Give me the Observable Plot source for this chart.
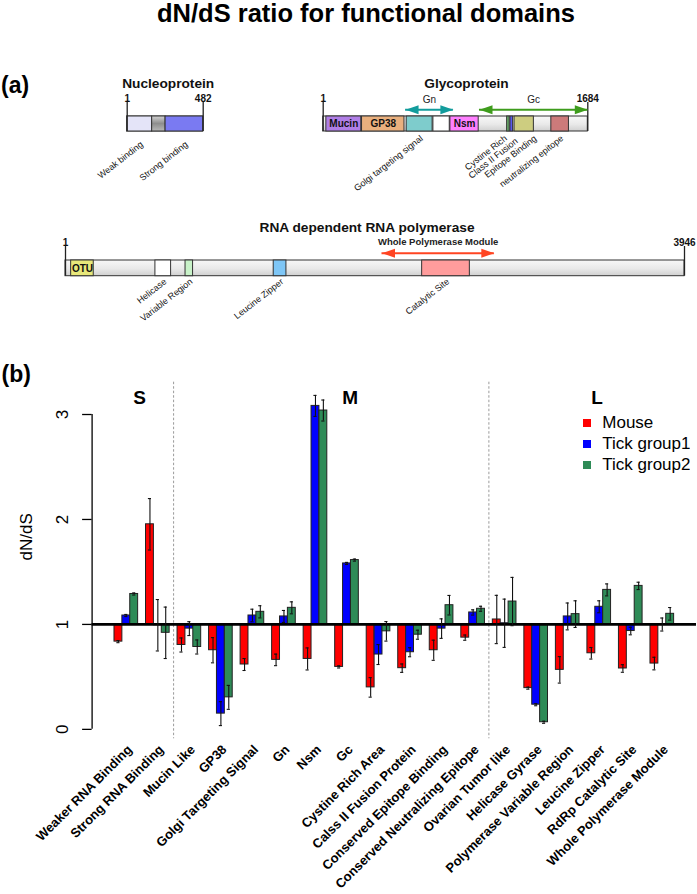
<!DOCTYPE html>
<html>
<head>
<meta charset="utf-8">
<script src="https://cdn.jsdelivr.net/npm/d3@7"></script>
<script src="https://cdn.jsdelivr.net/npm/@observablehq/plot@0.6"></script>
<style>
  html, body { margin: 0; padding: 0; background: #fff; }
  body { font-family: "Liberation Sans", Arial, Helvetica, sans-serif; }
  #root { position: relative; width: 697px; height: 894px; overflow: hidden; background: #fff; }
  .layer { position: absolute; left: 0; top: 0; }
  #title { position: absolute; left: 157px; top: 2px; font-size: 25.5px; font-weight: bold; line-height: 0.9; white-space: nowrap; color: #000; }
  #legendBox { position: absolute; left: 582.7px; top: 412.6px; }
  #legendBox .lg-swatches, #legendBox > div { margin: 0 !important; font-size: 17px !important; font-family: "Liberation Sans", Arial, sans-serif !important; }
  #legendBox .lg-swatch { height: 20.8px; padding-bottom: 0 !important; display: flex; align-items: center; }
  #legendBox svg { margin-right: 11.6px !important; }
</style>
</head>
<body>
<svg width="0" height="0" style="position:absolute">
  <defs>
    <linearGradient id="barGrad" x1="0" y1="0" x2="0" y2="1">
      <stop offset="0" stop-color="#F8F8F8"/>
      <stop offset="0.55" stop-color="#E9E9E9"/>
      <stop offset="1" stop-color="#D0D0D0"/>
    </linearGradient>
    <linearGradient id="greyGrad" x1="0" y1="0" x2="0" y2="1">
      <stop offset="0" stop-color="#D2D2D2"/>
      <stop offset="0.5" stop-color="#8E8E8E"/>
      <stop offset="1" stop-color="#B8B8B8"/>
    </linearGradient>
  </defs>
</svg>
<div id="root">
  <div id="title">dN/dS ratio for functional domains</div>
</div>
<script>
// ---------------- DATA: panel (a) domain maps ----------------
const proteinIds = ["N", "G", "L"];
const proteinNames = ["Nucleoprotein", "Glycoprotein", "RNA dependent RNA polymerase"];
const proteinLengths = [482, 1684, 3946];

const domainNames = ["Weak binding", "N linker", "Strong binding",
  "Mucin", "GP38", "Golgi targeting signal", "G spacer", "Nsm",
  "Cystine Rich", "Class II Fusion", "Epitope Binding", "neutralizing epitope",
  "OTU", "Helicase", "Variable Region", "Leucine Zipper", "Catalytic Site"];
const domainProtein = ["N", "N", "N", "G", "G", "G", "G", "G", "G", "G", "G", "G", "L", "L", "L", "L", "L"];
const domainStart = [1, 159, 244, 21, 248, 532, 702, 810, 1171, 1192, 1218, 1452, 37, 574, 766, 1328, 2274];
const domainEnd = [159, 244, 482, 243, 518, 697, 806, 990, 1187, 1209, 1341, 1564, 181, 674, 814, 1409, 2578];
const innerLabelled = ["Mucin", "GP38", "Nsm", "OTU"];
const belowLabelled = ["Weak binding", "Strong binding", "Golgi targeting signal", "Cystine Rich",
  "Class II Fusion", "Epitope Binding", "neutralizing epitope",
  "Helicase", "Variable Region", "Leucine Zipper", "Catalytic Site"];

const arrowNames = ["Gn", "Gc", "Whole Polymerase Module"];
const arrowProtein = ["G", "G", "L"];
const arrowStart = [525, 995, 2018];
const arrowEnd = [829, 1684, 2734];

// ---------------- DATA: panel (b) dN/dS bars ----------------
const categories = ["Weaker RNA Binding", "Strong RNA Binding", "Mucin Like", "GP38",
  "Golgi Targeting Signal", "Gn", "Nsm", "Gc", "Cystine Rich Area", "Calss II Fusion Protein",
  "Conserved Epitope Binding", "Conserved Neutralizing Epitope", "Ovarian Tumor like",
  "Helicase Gyrase", "Polymerase Variable Region", "Leucine Zipper", "RdRp Catalytic Site",
  "Whole Polymerase Module"];
const seriesNames = ["Mouse", "Tick group1", "Tick group2"];
const mouseValues = [0.836, 1.954, 0.804, 0.754, 0.618, 0.662, 0.671, 0.595, 0.400, 0.583, 0.754, 0.874, 1.047, 0.393, 0.567, 0.725, 0.580, 0.627];
const mouseErrors = [0.010, 0.245, 0.067, 0.120, 0.057, 0.055, 0.105, 0.010, 0.093, 0.040, 0.096, 0.025, 0.230, 0.010, 0.126, 0.055, 0.036, 0.060];
const tick1Values = [1.085, 0.992, 0.960, 0.150, 1.085, 1.076, 3.082, 1.581, 0.713, 0.735, 0.960, 1.114, 1.011, 0.235, 1.076, 1.168, 0.937, 0.999];
const tick1Errors = [0.010, 0.245, 0.066, 0.114, 0.060, 0.057, 0.100, 0.010, 0.095, 0.043, 0.093, 0.025, 0.230, 0.010, 0.128, 0.057, 0.036, 0.062];
const tick2Values = [1.290, 0.920, 0.785, 0.305, 1.120, 1.158, 3.038, 1.613, 0.934, 0.902, 1.183, 1.149, 1.218, 0.068, 1.098, 1.329, 1.367, 1.101];
const tick2Errors = [0.010, 0.245, 0.067, 0.114, 0.058, 0.057, 0.100, 0.010, 0.093, 0.043, 0.093, 0.024, 0.230, 0.010, 0.127, 0.057, 0.035, 0.060];
const segmentNames = ["S", "M", "L"];
const segmentFirst = [0, 2, 12];
const yTicks = [0, 1, 2, 3];
const yLabel = "dN/dS";
const baselineValue = 1;

// ---------------- STYLE / LAYOUT ----------------
const FONT = '"Liberation Sans", Arial, Helvetica, sans-serif';
const NARROW = '"Liberation Sans Narrow", "Arial Narrow", "Liberation Sans", Arial, sans-serif';
const W = 697;
const A_TOP = 40, A_H = 300;
const B_TOP = 340, B_H = 554;
const seriesColors = ["#FF0000", "#0000FF", "#2E8B57"];
const domainFill = {
  "Weak binding": "#E4E4F8", "N linker": "url(#greyGrad)", "Strong binding": "#7A7AF2",
  "Mucin": "#B07EE6", "GP38": "#E9B07E", "Golgi targeting signal": "#7ECCCC", "G spacer": "#FFFFFF",
  "Nsm": "#FF80FF", "Cystine Rich": "#6AAE6A", "Class II Fusion": "#5A5AEE",
  "Epitope Binding": "#CDCD80", "neutralizing epitope": "#CC7A7A",
  "OTU": "#E8E87A", "Helicase": "#FFFFFF", "Variable Region": "#C8F2C8",
  "Leucine Zipper": "#7EC6F6", "Catalytic Site": "#FF9C9C"
};
const arrowColor = {"Gn": "#129C9C", "Gc": "#3E9C1C", "Whole Polymerase Module": "#FF4422"};
const layoutA = {
  N: {barLeft: 126.7, barRight: 202.7, barTop: 116, barBottom: 131, titleDx: 3, labelGap: 9, arrowRise: 6.7, arrowLabelRise: 14},
  G: {barLeft: 322.7, barRight: 587.3, barTop: 116, barBottom: 131, titleDx: 11, labelGap: 3, arrowRise: 6.7, arrowLabelRise: 14},
  L: {barLeft: 65, barRight: 684, barTop: 260, barBottom: 275.7, titleDx: -8, labelGap: 1.5, arrowRise: 7.3, arrowLabelRise: 16}
};
const labelShift = {"Cystine Rich": [-4.7, 0], "Class II Fusion": [2.7, 2.7], "Epitope Binding": [9, 0]};
const segmentLabelAt = [0.42, 7.1, 14.93];   // label anchor, in category-index units
const GROUP_STEP = 4, BAR_SPACE = 1, CAP = 0.2;

const root = document.getElementById("root");
function addLayer(node, top) {
  const wrap = document.createElement("div");
  wrap.className = "layer";
  wrap.style.top = top + "px";
  wrap.appendChild(node);
  root.appendChild(wrap);
}

// arrow heads (custom symbols, tip at the point)
const headRight = {draw(ctx) { ctx.moveTo(0, 0); ctx.lineTo(-13, -4.5); ctx.lineTo(-13, 4.5); ctx.closePath(); }};
const headLeft = {draw(ctx) { ctx.moveTo(0, 0); ctx.lineTo(13, -4.5); ctx.lineTo(13, 4.5); ctx.closePath(); }};

// ---------------- PANEL (a) ----------------
proteinIds.forEach((id, pi) => {
  const p = {id, name: proteinNames[pi], len: proteinLengths[pi]};
  const L = layoutA[id];
  const doms = domainNames.map((name, k) => ({name, protein: domainProtein[k], start: domainStart[k], end: domainEnd[k]}))
    .filter(d => d.protein === id);
  const arrs = arrowNames.map((name, k) => ({name, protein: arrowProtein[k], start: arrowStart[k], end: arrowEnd[k]}))
    .filter(d => d.protein === id);
  const mid = d => (d.start + d.end) / 2;
  const marks = [
    Plot.rect([p], {x1: () => 1, x2: d => d.len, y1: () => 0, y2: () => 1, fill: "url(#barGrad)", stroke: "#333", strokeWidth: 1}),
    Plot.rect(doms, {x1: "start", x2: "end", y1: () => 0, y2: () => 1, fill: d => domainFill[d.name], stroke: "#333", strokeWidth: 1}),
    Plot.ruleX([1, p.len], {x: d => d, insetTop: -14, stroke: "#222", strokeWidth: 1.3}),
    Plot.text([1, p.len], {x: d => d, text: d => String(d), frameAnchor: "top", lineAnchor: "bottom", dy: -14.8,
      fontWeight: "bold", fontSize: 10, fontFamily: FONT, fill: "#111"}),
    Plot.text([p], {x: d => (1 + d.len) / 2, text: "name", frameAnchor: "top", lineAnchor: "bottom", dy: -29, dx: L.titleDx,
      fontWeight: "bold", fontSize: 13.7, fontFamily: FONT, fill: "#111"}),
    Plot.text(doms.filter(d => innerLabelled.includes(d.name)), {x: mid, y: () => 0.5, text: "name",
      fontWeight: "bold", fontSize: 10, fontFamily: NARROW, fill: "#111"})
  ];
  if (arrs.length) {
    marks.push(
      Plot.ruleY(arrs, {y: () => 1, x1: "start", x2: "end", dy: -L.arrowRise, stroke: d => arrowColor[d.name], strokeWidth: 2}),
      Plot.dot(arrs, {x: "end", y: () => 1, dy: -L.arrowRise, symbol: headRight, r: 5, fill: d => arrowColor[d.name], stroke: null}),
      Plot.dot(arrs, {x: "start", y: () => 1, dy: -L.arrowRise, symbol: headLeft, r: 5, fill: d => arrowColor[d.name], stroke: null}),
      Plot.text(arrs, {x: mid, text: "name", frameAnchor: "top", lineAnchor: "bottom", dy: -L.arrowLabelRise,
        fontSize: id === "L" ? 9.5 : 10, fontWeight: id === "L" ? "bold" : "normal", fontFamily: NARROW, fill: "#222"})
    );
  }
  doms.filter(d => belowLabelled.includes(d.name)).forEach(d => {
    const s = labelShift[d.name] || [0, 0];
    marks.push(Plot.text([d], {x: mid, text: "name", frameAnchor: "bottom", rotate: -38, textAnchor: "end", lineAnchor: "top",
      dx: s[0], dy: L.labelGap + s[1], fontSize: 9, fontFamily: NARROW, fill: "#111"}));
  });
  if (id === "N") {
    marks.push(Plot.text(["(a)"], {frameAnchor: "top-left", dx: -L.barLeft + 0.5, dy: -24, textAnchor: "start", lineAnchor: "bottom",
      fontWeight: "bold", fontSize: 23, fontFamily: FONT, fill: "#000"}));
  }
  const svg = Plot.plot({
    width: W, height: A_H,
    marginLeft: L.barLeft, marginRight: W - L.barRight,
    marginTop: L.barTop - A_TOP, marginBottom: A_H - (L.barBottom - A_TOP),
    x: {domain: [1, p.len], axis: null},
    y: {domain: [0, 1], axis: null},
    color: {type: "identity"},
    style: {background: "transparent", overflow: "visible", fontFamily: FONT},
    marks
  });
  addLayer(svg, A_TOP);
});

// ---------------- PANEL (b) ----------------
const seriesValues = [mouseValues, tick1Values, tick2Values];
const seriesErrors = [mouseErrors, tick1Errors, tick2Errors];
const rows = categories.flatMap((cat, i) => seriesNames.map((series, j) => ({
  cat, i, j, series, value: seriesValues[j][i], err: seriesErrors[j][i]
})));
const barX1 = d => d.i * GROUP_STEP + BAR_SPACE + d.j;
const barMid = d => barX1(d) + 0.5;
const groupMid = i => i * GROUP_STEP + BAR_SPACE + 1.5;
const xLo = BAR_SPACE, xHi = categories.length * GROUP_STEP;
const xPad = 0.04 * (xHi - xLo);
const yLo = d3.min(rows, d => d.value - d.err), yHi = d3.max(rows, d => d.value + d.err);
const yPad = 0.04 * (yHi - yLo);
const xMin = xLo - xPad;

const plotB = Plot.plot({
  width: W, height: B_H,
  marginLeft: 91.6, marginRight: 1, marginTop: 41.7, marginBottom: 155.7,
  x: {domain: [xMin, xHi + xPad], axis: null},
  y: {domain: [yLo - yPad, yHi + yPad], axis: null},
  color: {domain: seriesNames, range: seriesColors},
  style: {background: "transparent", overflow: "visible", fontFamily: FONT, color: "#000"},
  marks: [
    Plot.ruleX(segmentFirst.slice(1), {x: i => i * GROUP_STEP + BAR_SPACE / 2, stroke: "#9a9a9a", strokeDasharray: "2.5,2", strokeWidth: 1}),
    Plot.rect(rows, {x1: barX1, x2: d => barX1(d) + 1, y1: () => baselineValue, y2: "value", fill: "series", stroke: "#222", strokeWidth: 1}),
    Plot.ruleY([baselineValue], {stroke: "#000", strokeWidth: 2.6}),
    Plot.ruleX(rows, {x: barMid, y1: d => d.value - d.err, y2: d => d.value + d.err, stroke: "#111", strokeWidth: 1.1}),
    Plot.ruleY(rows, {y: d => d.value + d.err, x1: d => barMid(d) - CAP, x2: d => barMid(d) + CAP, stroke: "#111", strokeWidth: 1.1}),
    Plot.ruleY(rows, {y: d => d.value - d.err, x1: d => barMid(d) - CAP, x2: d => barMid(d) + CAP, stroke: "#111", strokeWidth: 1.1}),
    // y axis (R style: line spans the labelled ticks only)
    Plot.ruleX([xMin], {x: d => d, y1: () => yTicks[0], y2: () => yTicks[yTicks.length - 1], stroke: "#000", strokeWidth: 1.3}),
    Plot.axisY({ticks: yTicks, tickSize: 9.5, tickFormat: () => "", label: null, stroke: "#000", strokeWidth: 1.3}),
    Plot.text(yTicks, {x: () => xMin, y: d => d, text: d => String(d), rotate: -90, dx: -30, fontSize: 17, fill: "#000"}),
    Plot.text([yLabel], {frameAnchor: "left", dx: -65.6, rotate: -90, fontSize: 17, fill: "#000"}),
    // segment labels
    Plot.text(segmentNames, {x: (d, k) => segmentLabelAt[k] * GROUP_STEP + BAR_SPACE + 1.5, text: d => d,
      frameAnchor: "top", lineAnchor: "bottom", dy: 21.3, fontSize: 19, fontWeight: "bold", fill: "#000"}),
    // category labels
    Plot.text(categories, {x: (d, i) => groupMid(i), text: d => d, frameAnchor: "bottom", rotate: -45,
      textAnchor: "end", lineAnchor: "top", dy: 5, fontSize: 13, fontWeight: "bold", fill: "#000"}),
    Plot.text(["(b)"], {frameAnchor: "top-left", dx: -90.6, dy: -0.7, textAnchor: "start", lineAnchor: "bottom",
      fontSize: 23, fontWeight: "bold", fill: "#000"})
  ]
});
addLayer(plotB, B_TOP);

// legend
const legend = Plot.legend({
  color: {type: "ordinal", domain: seriesNames, range: seriesColors},
  legend: "swatches", columns: 1, swatchSize: 8, className: "lg",
  style: {fontSize: "17px", fontFamily: FONT, color: "#000"}
});
const lb = document.createElement("div");
lb.id = "legendBox";
lb.appendChild(legend);
root.appendChild(lb);
</script>
</body>
</html>
